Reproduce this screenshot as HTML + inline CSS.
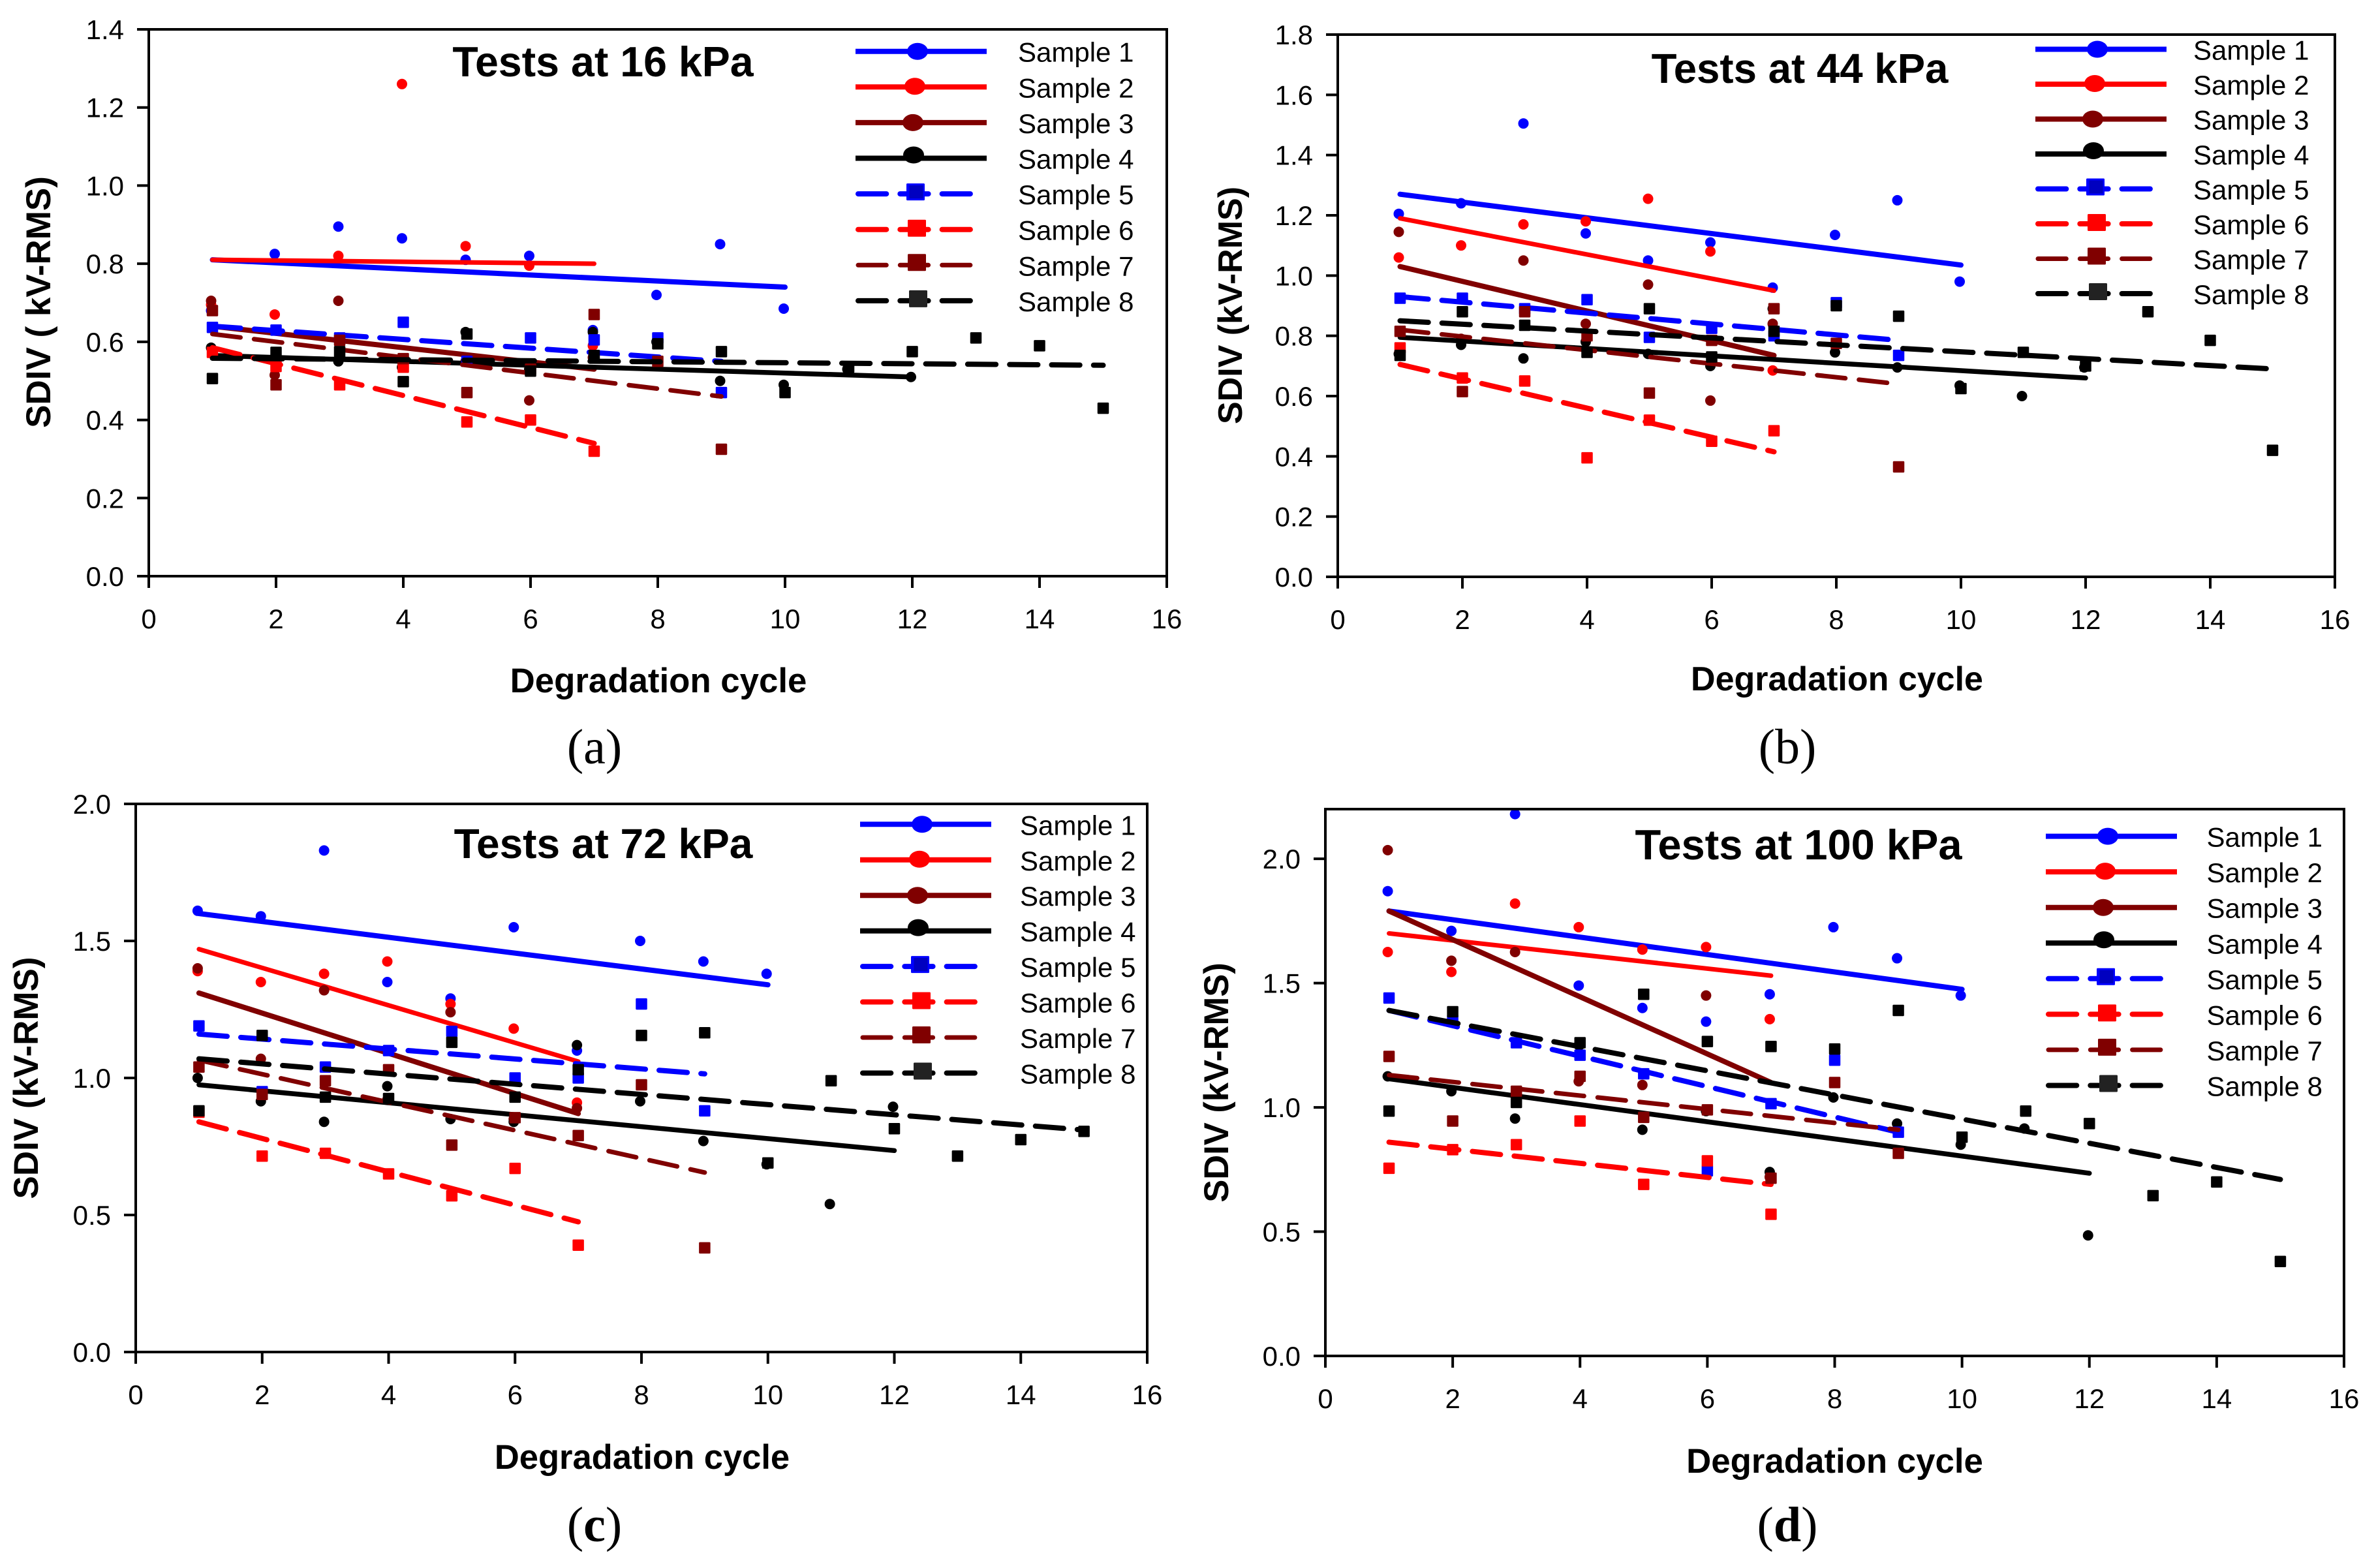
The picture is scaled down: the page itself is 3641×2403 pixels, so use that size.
<!DOCTYPE html>
<html lang="en">
<head>
<meta charset="utf-8">
<title>SDIV vs Degradation cycle</title>
<style>
html,body{margin:0;padding:0;background:#fff}
svg{display:block}
text{font-family:"Liberation Sans",Arial,sans-serif;fill:#000}
.cap{font-family:"Liberation Serif",serif;font-size:76px}
.ti{font-weight:bold}
</style>
</head>
<body>
<svg id="figure" xmlns="http://www.w3.org/2000/svg" width="3641" height="2403" viewBox="0 0 3641 2403">
<rect width="3641" height="2403" fill="#fff"/>
<g id="panel-a">
  <text class="ti" x="924" y="117" font-size="64.5" text-anchor="middle">Tests at 16 kPa</text>
  <text class="ti" x="1009" y="1061" font-size="52.8" text-anchor="middle">Degradation cycle</text>
  <text class="ti" transform="translate(77,463) rotate(-90)" font-size="53" text-anchor="middle">SDIV ( kV-RMS)</text>
  <text class="cap" x="911" y="1170" text-anchor="middle">(a)</text>
</g>
<g id="panel-b">
  <text class="ti" x="2758" y="127" font-size="63.6" text-anchor="middle">Tests at 44 kPa</text>
  <text class="ti" x="2815" y="1058" font-size="52" text-anchor="middle">Degradation cycle</text>
  <text class="ti" transform="translate(1903,468) rotate(-90)" font-size="52" text-anchor="middle">SDIV (kV-RMS)</text>
  <text class="cap" x="2739" y="1170" text-anchor="middle">(b)</text>
</g>
<g id="panel-c">
  <text class="ti" x="924.5" y="1315" font-size="64" text-anchor="middle">Tests at 72 kPa</text>
  <text class="ti" x="984" y="2251" font-size="52.5" text-anchor="middle">Degradation cycle</text>
  <text class="ti" transform="translate(58,1652) rotate(-90)" font-size="53" text-anchor="middle">SDIV (kV-RMS)</text>
  <text class="cap" x="911" y="2362" text-anchor="middle">(<tspan font-weight="bold">c</tspan>)</text>
</g>
<g id="panel-d">
  <text class="ti" x="2756" y="1317" font-size="65" text-anchor="middle">Tests at 100 kPa</text>
  <text class="ti" x="2811.5" y="2257" font-size="52.8" text-anchor="middle">Degradation cycle</text>
  <text class="ti" transform="translate(1882,1659) rotate(-90)" font-size="52.5" text-anchor="middle">SDIV (kV-RMS)</text>
  <text class="cap" x="2739" y="2362" text-anchor="middle">(<tspan font-weight="bold">d</tspan>)</text>
</g>
</svg>
<script>
// ---- shared tick labels and sample names ----
const xTickLabels = [0, 2, 4, 6, 8, 10, 12, 14, 16];
const yTicksA = ["0.0", "0.2", "0.4", "0.6", "0.8", "1.0", "1.2", "1.4"];
const yTicksB = ["0.0", "0.2", "0.4", "0.6", "0.8", "1.0", "1.2", "1.4", "1.6", "1.8"];
const yTicksC = ["0.0", "0.5", "1.0", "1.5", "2.0"];
const yTicksD = ["0.0", "0.5", "1.0", "1.5", "2.0"];
const sampleNames = ["Sample 1", "Sample 2", "Sample 3", "Sample 4", "Sample 5", "Sample 6", "Sample 7", "Sample 8"];

// ---- panel (a) 16 kPa: values by degradation cycle 1..n ----
const a1 = [0.68, 0.825, 0.895, 0.865, 0.81, 0.82, 0.63, 0.72, 0.85, 0.685];
const a2 = [0.695, 0.67, 0.82, 1.26, 0.845, 0.795, 0.59];
const a3 = [0.705, 0.515, 0.705, 0.55, 0.55, 0.45, 0.56];
const a4 = [0.585, 0.55, 0.55, 0.535, 0.625, 0.53, 0.625, 0.60, 0.50, 0.49, 0.53, 0.51];
const a5 = [0.637, 0.63, 0.61, 0.65, 0.55, 0.61, 0.605, 0.61, 0.47];
const a6 = [0.573, 0.537, 0.49, 0.535, 0.395, 0.40, 0.32];
const a7 = [0.68, 0.49, 0.604, 0.557, 0.47, 0.53, 0.67, 0.55, 0.325];
const a8 = [0.506, 0.573, 0.575, 0.498, 0.62, 0.525, 0.565, 0.595, 0.575, 0.47, 0.535, 0.575, 0.61, 0.59, 0.43];
const aTrendStart = [0.81, 0.81, 0.64, 0.565, 0.64, 0.585, 0.62, 0.558];
const aTrendEnd = [0.74, 0.80, 0.53, 0.51, 0.55, 0.34, 0.46, 0.54];

// ---- panel (b) 44 kPa ----
const b1 = [1.205, 1.24, 1.505, 1.14, 1.05, 1.11, 0.96, 1.135, 1.25, 0.98];
const b2 = [1.06, 1.10, 1.17, 1.18, 1.255, 1.08, 0.685];
const b3 = [1.145, 0.79, 1.05, 0.84, 0.97, 0.585, 0.84];
const b4 = [0.74, 0.77, 0.725, 0.78, 0.74, 0.70, 0.89, 0.745, 0.695, 0.635, 0.60, 0.695];
const b5 = [0.925, 0.925, 0.89, 0.92, 0.795, 0.825, 0.80, 0.91, 0.735];
const b6 = [0.76, 0.66, 0.65, 0.395, 0.52, 0.45, 0.485];
const b7 = [0.815, 0.615, 0.88, 0.80, 0.61, 0.785, 0.89, 0.775, 0.365];
const b8 = [0.735, 0.88, 0.835, 0.745, 0.89, 0.73, 0.815, 0.90, 0.865, 0.625, 0.745, 0.70, 0.88, 0.785, 0.42];
const bTrendStart = [1.27, 1.19, 1.03, 0.795, 0.93, 0.705, 0.82, 0.85];
const bTrendEnd = [1.035, 0.95, 0.735, 0.66, 0.785, 0.415, 0.64, 0.69];

// ---- panel (c) 72 kPa ----
const c1 = [1.61, 1.59, 1.83, 1.35, 1.29, 1.55, 1.10, 1.50, 1.425, 1.38];
const c2 = [1.39, 1.35, 1.38, 1.425, 1.27, 1.18, 0.91];
const c3 = [1.40, 1.07, 1.32, 0.92, 1.24, 0.85, 0.89];
const c4 = [1.00, 0.915, 0.84, 0.97, 0.85, 0.84, 1.12, 0.915, 0.77, 0.685, 0.54, 0.895];
const c5 = [1.19, 0.95, 1.04, 1.10, 1.17, 1.00, 1.00, 1.27, 0.88];
const c6 = [0.875, 0.715, 0.725, 0.65, 0.57, 0.67, 0.39];
const c7 = [1.04, 0.94, 0.99, 1.03, 0.755, 0.855, 0.79, 0.975, 0.38];
const c8 = [0.88, 1.155, 0.93, 0.925, 1.13, 0.93, 1.03, 1.155, 1.165, 0.69, 0.99, 0.815, 0.715, 0.775, 0.805];
const cTrendStart = [1.60, 1.47, 1.31, 0.975, 1.16, 0.84, 1.065, 1.07];
const cTrendEnd = [1.34, 1.06, 0.87, 0.735, 1.015, 0.475, 0.655, 0.81];

// ---- panel (d) 100 kPa ----
const d1 = [1.87, 1.71, 2.18, 1.49, 1.40, 1.345, 1.455, 1.725, 1.60, 1.45];
const d2 = [1.625, 1.545, 1.82, 1.725, 1.635, 1.645, 1.355];
const d3 = [2.035, 1.59, 1.625, 1.105, 1.09, 1.45, 0.72];
const d4 = [1.125, 1.065, 0.955, 1.25, 0.91, 0.985, 0.74, 1.04, 0.935, 0.85, 0.915, 0.485];
const d5 = [1.44, 1.35, 1.26, 1.21, 1.135, 0.745, 1.015, 1.19, 0.90];
const d6 = [0.755, 0.83, 0.85, 0.945, 0.69, 0.785, 0.57];
const d7 = [1.205, 0.945, 1.065, 1.125, 0.96, 0.99, 0.715, 1.10, 0.815];
const d8 = [0.985, 1.385, 1.02, 1.26, 1.455, 1.265, 1.245, 1.235, 1.39, 0.88, 0.985, 0.935, 0.645, 0.70, 0.38];
const dTrendStart = [1.79, 1.70, 1.79, 1.115, 1.39, 0.86, 1.13, 1.39];
const dTrendEnd = [1.475, 1.53, 1.10, 0.735, 0.90, 0.69, 0.91, 0.71];

// ---- presentation ----
const NS = "http://www.w3.org/2000/svg";
const seriesColor = ["#0000ff", "#ff0000", "#800000", "#000000", "#0000ff", "#ff0000", "#800000", "#000000"];
const seriesWidth = [8, 7, 8, 7.5, 8, 8, 7, 8];
const DASH = "43.3 21";
const isDashed = function (s) { return s >= 4; };
const legendMarkerDx = [95, 91, 88, 89, 92, 94, 94, 96];
const legendMarkerDy = [0, -1, 0, -5, -3, -2, -4, -3];
const legendLineLen = [201, 201, 201, 201, 196, 176, 196, 176];

const layouts = [
  {id: "a", x0: 228, x16: 1788, yTop: 45, y0: 883, yMax: 1.4, ticks: yTicksA,
   series: [a1, a2, a3, a4, a5, a6, a7, a8], start: aTrendStart, end: aTrendEnd,
   legX1: 1311, legText: 1560, legY: 78.7, legStep: 54.6},
  {id: "b", x0: 2050, x16: 3578, yTop: 53, y0: 884, yMax: 1.8, ticks: yTicksB,
   series: [b1, b2, b3, b4, b5, b6, b7, b8], start: bTrendStart, end: bTrendEnd,
   legX1: 3119, legText: 3361, legY: 75.5, legStep: 53.5},
  {id: "c", x0: 208, x16: 1758, yTop: 1232, y0: 2072, yMax: 2.0, ticks: yTicksC,
   series: [c1, c2, c3, c4, c5, c6, c7, c8], start: cTrendStart, end: cTrendEnd,
   legX1: 1318, legText: 1563, legY: 1263.3, legStep: 54.45},
  {id: "d", x0: 2031, x16: 3592, yTop: 1240, y0: 2078, yMax: 2.2, ticks: yTicksD,
   series: [d1, d2, d3, d4, d5, d6, d7, d8], start: dTrendStart, end: dTrendEnd,
   legX1: 3135, legText: 3381.5, legY: 1281.6, legStep: 54.55}
];

function mk(parent, tag, attrs) {
  const el = document.createElementNS(NS, tag);
  for (const k in attrs) el.setAttribute(k, attrs[k]);
  parent.appendChild(el);
  return el;
}

layouts.forEach(function (p) {
  const root = document.getElementById("panel-" + p.id);
  const sx = function (v) { return p.x0 + (v / 16) * (p.x16 - p.x0); };
  const sy = function (v) { return p.y0 - (v / p.yMax) * (p.y0 - p.yTop); };

  // marks first, frame on top
  p.series.forEach(function (vals, s) {
    const g = mk(root, "g", {});
    
    
    vals.forEach(function (v, i) {
      let m;
      if (s < 4) {
        m = mk(g, "circle", {cx: sx(i + 1) - 2, cy: sy(v), r: 8, fill: seriesColor[s]});
      } else {
        m = mk(g, "rect", {x: sx(i + 1) - 8.75, y: sy(v) - 8.75, width: 17.5, height: 17.5, rx: 1.5, fill: seriesColor[s]});
      }
      
      
    });
    const line = mk(g, "line", {
      x1: sx(1), y1: sy(p.start[s]), x2: sx(vals.length), y2: sy(p.end[s]),
      stroke: seriesColor[s], "stroke-width": seriesWidth[s], "stroke-linecap": "round"
    });
    if (isDashed(s)) line.setAttribute("stroke-dasharray", DASH);
    
    
  });

  const frame = mk(root, "rect", {
    x: p.x0, y: p.yTop, width: p.x16 - p.x0, height: p.y0 - p.yTop,
    fill: "none", stroke: "#000", "stroke-width": 4
  });
  
  

  // x axis
  xTickLabels.forEach(function (t) {
    const tick = mk(root, "line", {x1: sx(t), y1: p.y0, x2: sx(t), y2: p.y0 + 18, stroke: "#000", "stroke-width": 4});
    
    
    const lab = mk(root, "text", {x: sx(t), y: p.y0 + 80, "font-size": 42, "text-anchor": "middle"});
    lab.textContent = t;
    
    
  });

  // y axis
  p.ticks.forEach(function (t) {
    const v = parseFloat(t);
    const tick = mk(root, "line", {x1: p.x0 - 18, y1: sy(v), x2: p.x0, y2: sy(v), stroke: "#000", "stroke-width": 4});
    
    
    const lab = mk(root, "text", {x: p.x0 - 38, y: sy(v) + 15, "font-size": 42, "text-anchor": "end"});
    lab.textContent = t;
    
    
  });

  // legend
  sampleNames.forEach(function (name, s) {
    const y = p.legY + s * p.legStep;
    const g = mk(root, "g", {});
    
    
    const dashed = isDashed(s);
    const line = mk(g, "line", {
      x1: p.legX1 + (dashed ? 4 : 0), y1: y, x2: p.legX1 + legendLineLen[s], y2: y,
      stroke: seriesColor[s], "stroke-width": s === 6 ? 7 : 8, "stroke-linecap": dashed ? "round" : "butt"
    });
    if (dashed) line.setAttribute("stroke-dasharray", DASH);
    const cx = p.legX1 + legendMarkerDx[s];
    const cy = y + legendMarkerDy[s];
    if (s < 4) {
      mk(g, "ellipse", {cx: cx, cy: cy, rx: 16, ry: 13, fill: seriesColor[s]});
    } else {
      mk(g, "rect", {x: cx - 14, y: cy - 13, width: 28, height: 26, rx: 1.5, fill: s === 7 ? "#222" : seriesColor[s]});
      if (s === 4) mk(g, "rect", {x: cx - 9.5, y: cy - 10, width: 21, height: 20, fill: "#0000c0"});
    }
    const lab = mk(g, "text", {x: p.legText, y: y + 16, "font-size": 42});
    lab.textContent = name;
  });
});
</script>
</body>
</html>
